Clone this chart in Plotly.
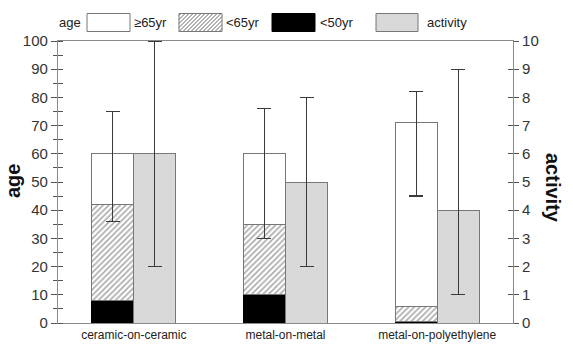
import plotly.graph_objects as go

# ---------------- data ----------------
categories = ["ceramic-on-ceramic", "metal-on-metal", "metal-on-polyethylene"]
age_ge65 = [60, 60, 71]      # top of white bar (cumulative)
age_lt65 = [42, 35, 6]       # top of hatched part (cumulative)
age_lt50 = [8, 10, 0.7]      # top of black part
age_err_hi = [75, 76, 82]
age_err_lo = [36, 30, 45]
activity = [6, 5, 4]
act_err_hi = [10, 8, 9]
act_err_lo = [2, 2, 1]

age_ticks = list(range(0, 101, 10))
act_ticks = list(range(0, 11, 1))

# ---------------- layout constants ----------------
W, H = 573, 349
ML, MR, MT, MB = 58, 60, 41, 26
PW, PH = W - ML - MR, H - MT - MB
FONT = "Liberation Sans, Arial, sans-serif"
LINE = "#8a8a8a"
BW = 0.277  # bar width in category units

seg_black = age_lt50
seg_hatch = [b - a for a, b in zip(age_lt50, age_lt65)]
seg_white = [b - a for a, b in zip(age_lt65, age_ge65)]

fig = go.Figure()
fig.add_trace(go.Bar(x=categories, y=seg_black, offset=-BW, width=BW,
                     marker=dict(color="black", line=dict(color="black", width=1)),
                     showlegend=False, xaxis="x", yaxis="y"))
fig.add_trace(go.Bar(x=categories, y=seg_hatch, offset=-BW, width=BW,
                     marker=dict(color="white", line=dict(color="#777", width=1),
                                 pattern=dict(shape="/", size=4, solidity=0.4,
                                              fgcolor="#555", bgcolor="white")),
                     showlegend=False, xaxis="x", yaxis="y"))
fig.add_trace(go.Bar(x=categories, y=seg_white, offset=-BW, width=BW,
                     marker=dict(color="white", line=dict(color="#777", width=1)),
                     error_y=dict(type="data", symmetric=False,
                                  array=[h - t for h, t in zip(age_err_hi, age_ge65)],
                                  arrayminus=[t - l for l, t in zip(age_err_lo, age_ge65)],
                                  color="#3a3a3a", thickness=1.3, width=7),
                     showlegend=False, xaxis="x", yaxis="y"))
fig.add_trace(go.Bar(x=categories, y=activity, offset=0, width=BW,
                     marker=dict(color="#d9d9d9", line=dict(color="#777", width=1)),
                     error_y=dict(type="data", symmetric=False,
                                  array=[h - v for h, v in zip(act_err_hi, activity)],
                                  arrayminus=[v - l for l, v in zip(act_err_lo, activity)],
                                  color="#3a3a3a", thickness=1.3, width=7),
                     showlegend=False, xaxis="x", yaxis="y2"))
# empty helper traces so the tick-only overlay axes are drawn
fig.add_trace(go.Scatter(x=[None], y=[None], xaxis="x", yaxis="y3", showlegend=False, hoverinfo="skip"))
fig.add_trace(go.Scatter(x=[None], y=[None], xaxis="x", yaxis="y4", showlegend=False, hoverinfo="skip"))

tickfont = dict(family=FONT, size=15, color="#333")

fig.update_layout(
    width=W, height=H,
    margin=dict(l=ML, r=MR, t=MT, b=MB, pad=0, autoexpand=False),
    paper_bgcolor="white", plot_bgcolor="white",
    barmode="stack",
    font=dict(family=FONT, color="#222"),
    xaxis=dict(type="category", categoryorder="array", categoryarray=categories,
               range=[-0.5, 2.5], showline=True, linecolor=LINE, linewidth=1.2,
               mirror=True, ticks="", showgrid=False, zeroline=False,
               ticklabelstandoff=0, automargin=False,
               tickfont=dict(family=FONT, size=12, color="#222")),
    yaxis=dict(range=[0, 100], tickvals=age_ticks, ticks="outside", ticklen=6,
               tickcolor="#555", tickwidth=1.2, showline=True, linecolor=LINE,
               linewidth=1.2, showgrid=False, zeroline=False, tickfont=tickfont,
               automargin=False,
               minor=dict(dtick=5, ticks="inside", ticklen=5, tickcolor="#555",
                          tickwidth=1.2, showgrid=False)),
    yaxis2=dict(range=[0, 10], tickvals=act_ticks, overlaying="y", side="right",
                anchor="x", ticks="outside", ticklen=5, tickcolor="#555",
                tickwidth=1.2, showline=True, linecolor=LINE, linewidth=1.2,
                showgrid=False, zeroline=False, tickfont=tickfont, automargin=False),
    yaxis3=dict(range=[0, 100], tickvals=[5, 15, 25, 35, 45, 55, 65, 75, 85, 95],
                overlaying="y", side="left", anchor="x", ticks="outside",
                ticklen=4, tickcolor="#555", tickwidth=1.2, showticklabels=False,
                showline=False, showgrid=False, zeroline=False, automargin=False),
    yaxis4=dict(range=[0, 10], tickvals=act_ticks, overlaying="y", side="right",
                anchor="x", ticks="inside", ticklen=5, tickcolor="#555",
                tickwidth=1.2, showticklabels=False, showline=False,
                showgrid=False, zeroline=False, automargin=False),
)


def px(xp):
    return (xp - ML) / PW


def py(yp):
    return (H - MB - yp) / PH


shapes = []
annotations = []

# axis titles
annotations.append(dict(text="<b>age</b>", x=px(13), y=py(181), xref="paper", yref="paper",
                        xanchor="center", yanchor="middle",
                        showarrow=False, textangle=-90, font=dict(family=FONT, size=20, color="#111")))
annotations.append(dict(text="<b>activity</b>", x=px(553), y=py(188), xref="paper", yref="paper",
                        xanchor="center", yanchor="middle",
                        showarrow=False, textangle=90, font=dict(family=FONT, size=20, color="#111")))

# legend (drawn manually, large boxes as in the original)
LY0, LY1 = 13.5, 31.5
LYC = (LY0 + LY1) / 2
lfont = dict(family=FONT, size=13, color="#222")
annotations.append(dict(text="age", x=px(70), y=py(LYC), xref="paper", yref="paper",
                        xanchor="center", yanchor="middle", showarrow=False, font=lfont))
legend_items = [
    (87, 130, "white", "≥65yr", 132),
    (179, 222, "hatch", "<65yr", 224),
    (272, 315, "black", "<50yr", 318),
    (376, 418, "#d9d9d9", "activity", 425),
]
for x0, x1, fill, label, tx in legend_items:
    if fill == "hatch":
        parts = []
        c = x0 + LY0 + 2
        while c < x1 + LY1:
            xa = max(x0, c - LY1)
            xb = min(x1, c - LY0)
            if xb > xa:
                parts.append(f"M{px(xa)},{py(c - xa)} L{px(xb)},{py(c - xb)}")
            c += 4
        shapes.append(dict(type="path", xref="paper", yref="paper", path=" ".join(parts),
                           line=dict(color="#555", width=0.9)))
        shapes.append(dict(type="rect", xref="paper", yref="paper", x0=px(x0), x1=px(x1),
                           y0=py(LY1), y1=py(LY0), line=dict(color="#777", width=1)))
    else:
        shapes.append(dict(type="rect", xref="paper", yref="paper", x0=px(x0), x1=px(x1),
                           y0=py(LY1), y1=py(LY0), fillcolor=fill,
                           line=dict(color="black" if fill == "black" else "#777", width=1)))
    annotations.append(dict(text=label, x=px(tx), y=py(LYC), xref="paper", yref="paper",
                            xanchor="left", yanchor="middle", showarrow=False, font=lfont))

fig.update_layout(shapes=shapes, annotations=annotations)
fig.write_html("out.html")
